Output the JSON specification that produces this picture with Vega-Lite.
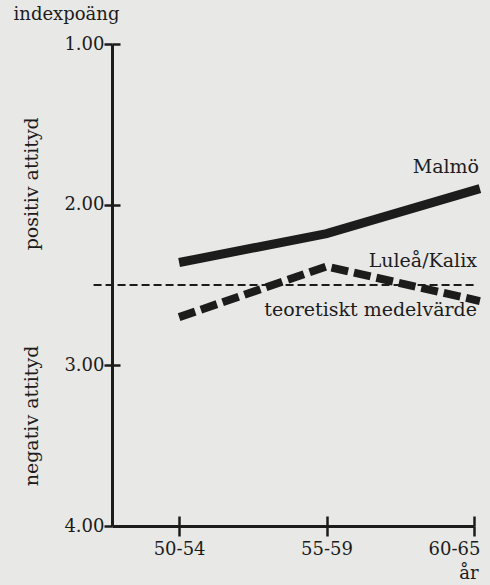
{
  "$schema": "https://vega.github.io/schema/vega-lite/v6.json",
  "width": 362,
  "height": 482,
  "autosize": {"type": "none"},
  "padding": {"left": 112, "top": 44, "right": 16, "bottom": 59},
  "background": "#e8e8e6",
  "config": {
    "view": {"stroke": null},
    "font": "DejaVu Serif",
    "axis": {
      "grid": false,
      "domainColor": "#1c1c1c",
      "domainWidth": 3,
      "tickColor": "#1c1c1c",
      "tickWidth": 2.5,
      "labelColor": "#1c1c1c",
      "titleColor": "#1c1c1c",
      "labelFont": "DejaVu Serif",
      "titleFont": "DejaVu Serif",
      "labelFontSize": 18,
      "titleFontSize": 18,
      "titleFontWeight": "normal"
    }
  },
  "resolve": {"axis": {"x": "independent", "y": "independent"}},
  "datasets": {
    "serier": [
      {"ort": "Malmö", "ald": 1, "alder": "50-54", "index": 2.36},
      {"ort": "Malmö", "ald": 2, "alder": "55-59", "index": 2.18},
      {"ort": "Malmö", "ald": 3.04, "alder": "60-65", "index": 1.9},
      {"ort": "Luleå/Kalix", "ald": 1, "alder": "50-54", "index": 2.7},
      {"ort": "Luleå/Kalix", "ald": 2, "alder": "55-59", "index": 2.385},
      {"ort": "Luleå/Kalix", "ald": 3.04, "alder": "60-65", "index": 2.6}
    ],
    "medel": [{"ald": 0.42, "ald2": 3.02, "index": 2.5}],
    "sidotext": [
      {"t": "positiv attityd", "ald": 0, "index": 1.87},
      {"t": "negativ attityd", "ald": 0, "index": 3.315}
    ],
    "etiketter": [
      {"t": "Malmö", "ald": 3.034, "index": 1.8},
      {"t": "Luleå/Kalix", "ald": 3.02, "index": 2.388},
      {"t": "teoretiskt medelvärde", "ald": 3.02, "index": 2.69}
    ]
  },
  "layer": [
    {
      "data": {"name": "serier"},
      "transform": [{"filter": "datum.ort === 'Malmö'"}],
      "mark": {"type": "line", "color": "#1c1c1c", "strokeWidth": 9, "clip": false},
      "encoding": {
        "x": {
          "field": "ald", "type": "quantitative",
          "scale": {"domain": [0.545, 3], "nice": false, "zero": false},
          "axis": {
            "values": [1, 2, 3],
            "labelExpr": "datum.value == 1 ? '50-54' : datum.value == 2 ? '55-59' : '60-65'",
            "tickSize": 10,
            "labelPadding": 4,
            "labelFlush": true,
            "labelFlushOffset": 6,
            "title": "år",
            "titleAnchor": "end",
            "titleAlign": "right",
            "titleBaseline": "alphabetic",
            "titleX": 366,
            "titleY": 52
          }
        },
        "y": {
          "field": "index", "type": "quantitative",
          "scale": {"domain": [1, 4], "reverse": true, "nice": false, "zero": false},
          "axis": {
            "values": [1, 2, 3, 4],
            "format": ".2f",
            "tickSize": 8,
            "labelPadding": 0,
            "title": "indexpoäng",
            "titleAngle": 0,
            "titleAlign": "center",
            "titleBaseline": "alphabetic",
            "titleX": -46,
            "titleY": -25
          }
        }
      }
    },
    {
      "data": {"name": "serier"},
      "transform": [{"filter": "datum.ort === 'Luleå/Kalix'"}],
      "mark": {"type": "line", "color": "#1c1c1c", "strokeWidth": 8, "strokeDash": [17, 6], "clip": false},
      "encoding": {
        "x": {
          "field": "ald", "type": "quantitative",
          "axis": {"orient": "top", "offset": -482, "values": [1, 2, 3], "tickSize": 10, "labels": false, "domain": false, "title": null}
        },
        "y": {
          "field": "index", "type": "quantitative",
          "axis": {"orient": "right", "offset": -362, "values": [1, 2, 3], "tickSize": 8, "labels": false, "domain": false, "title": null}
        }
      }
    },
    {
      "data": {"name": "medel"},
      "mark": {"type": "rule", "color": "#1c1c1c", "strokeWidth": 2, "strokeDash": [8, 4], "clip": false},
      "encoding": {
        "x": {"field": "ald", "type": "quantitative", "axis": null},
        "x2": {"field": "ald2"},
        "y": {"field": "index", "type": "quantitative", "axis": null}
      }
    },
    {
      "data": {"name": "sidotext"},
      "mark": {"type": "text", "angle": 270, "align": "center", "baseline": "middle", "fontSize": 19, "color": "#1c1c1c", "font": "DejaVu Serif", "clip": false},
      "encoding": {
        "x": {"field": "ald", "type": "quantitative", "axis": null},
        "y": {"field": "index", "type": "quantitative", "axis": null},
        "text": {"field": "t"}
      }
    },
    {
      "data": {"name": "etiketter"},
      "mark": {"type": "text", "align": "right", "baseline": "alphabetic", "fontSize": 19, "color": "#1c1c1c", "font": "DejaVu Serif", "clip": false},
      "encoding": {
        "x": {"field": "ald", "type": "quantitative", "axis": null},
        "y": {"field": "index", "type": "quantitative", "axis": null},
        "text": {"field": "t"}
      }
    }
  ]
}
